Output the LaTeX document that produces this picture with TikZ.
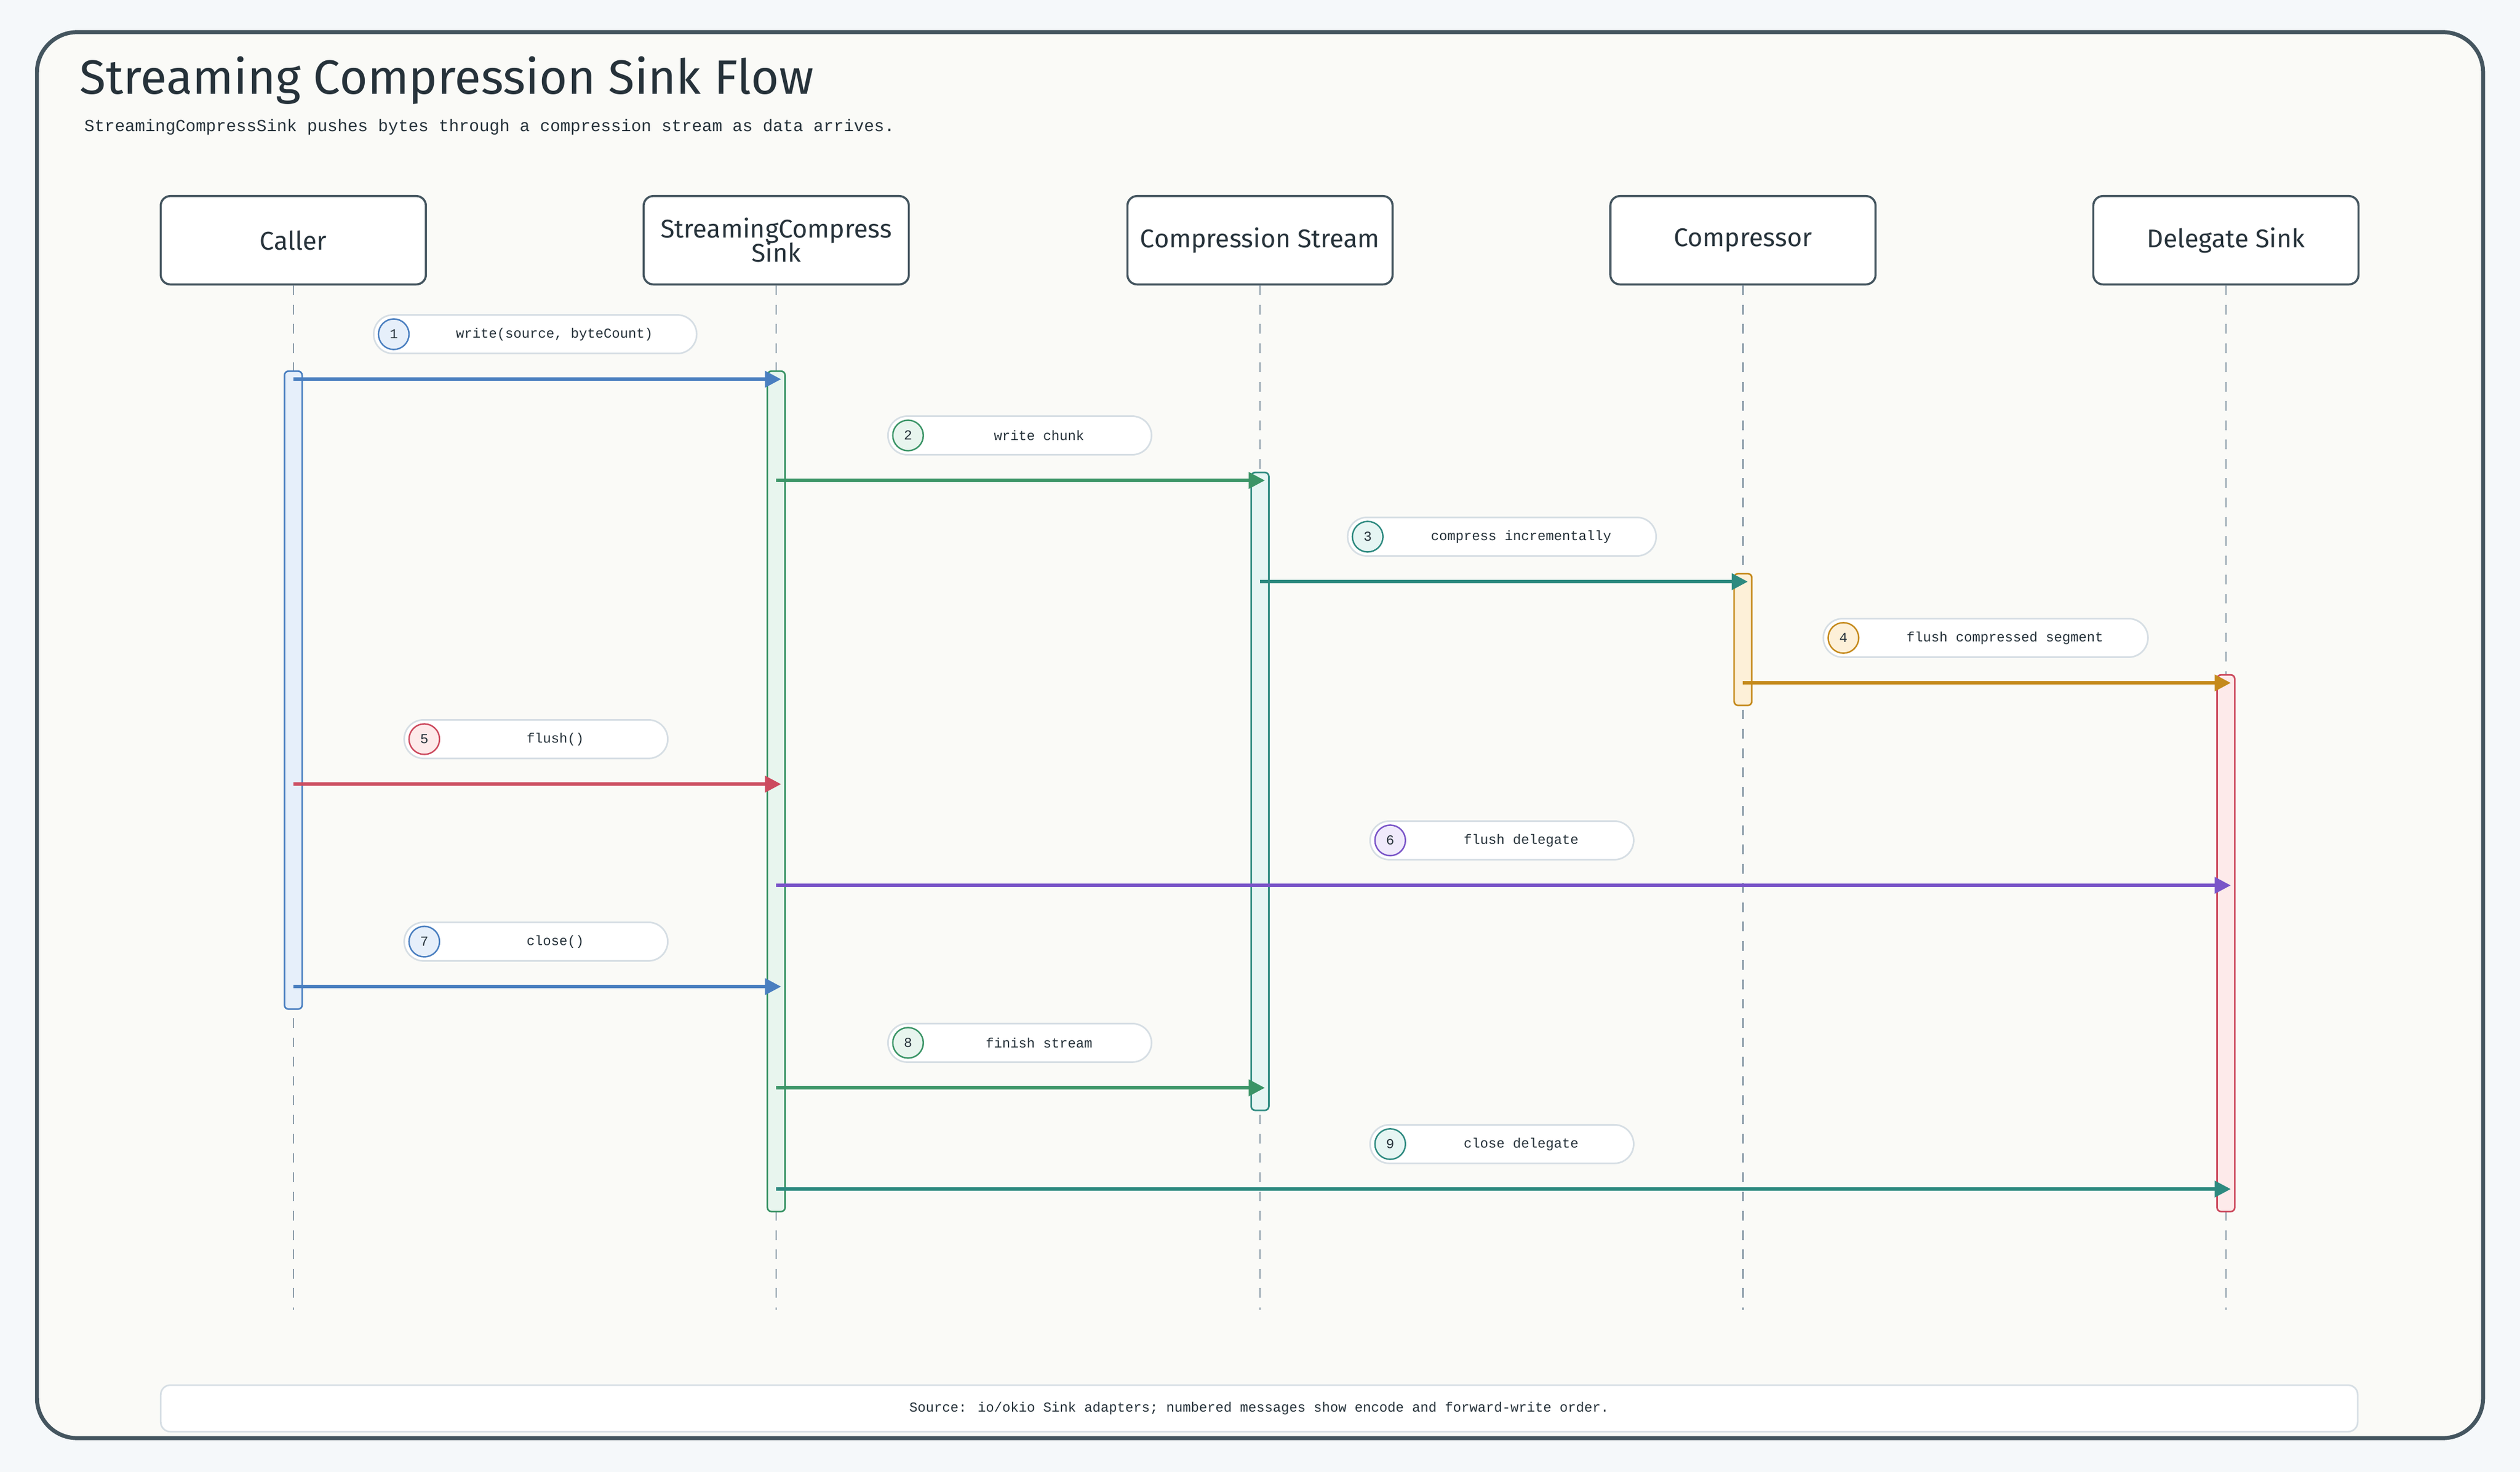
\documentclass[tikz,border=0pt]{standalone}
\usepackage{fontspec}
\setmainfont{Fira Sans}
\newfontfamily\monof{Liberation Mono}
\usetikzlibrary{arrows.meta}
\definecolor{bgout}{HTML}{F5F8FA}
\definecolor{bgin}{HTML}{FAFAF7}
\definecolor{frame}{HTML}{44555F}
\definecolor{ink}{HTML}{26323A}
\definecolor{cblue}{HTML}{4A7FC0}\definecolor{fblue}{HTML}{E6EFFA}
\definecolor{cgreen}{HTML}{3A9466}\definecolor{fgreen}{HTML}{E8F5EE}
\definecolor{cteal}{HTML}{2E8A80}\definecolor{fteal}{HTML}{E6F5F3}
\definecolor{corange}{HTML}{C58A1C}\definecolor{forange}{HTML}{FDF0D8}
\definecolor{cred}{HTML}{CC4A5E}\definecolor{fred}{HTML}{FDEAEA}
\definecolor{cpurple}{HTML}{7A55C8}\definecolor{fpurple}{HTML}{F0EAFB}
\definecolor{pill}{HTML}{D6DEE4}
\definecolor{life}{HTML}{8A9BA8}
\tikzset{x=1pt,y=-1pt,
 hdr/.style={draw=frame,line width=1.3pt,fill=white,rounded corners=6pt,minimum width=165pt,minimum height=55pt,align=center,font=\fontsize{16}{15}\selectfont,text=ink,inner sep=1pt},
 lifeline/.style={life,line width=0.9pt,dash pattern=on 6pt off 6pt},
 act/.style={rounded corners=2.5pt,line width=1pt},
 msg/.style={line width=2pt,-{Triangle[length=10pt,width=10pt]}},
 pillbox/.style={draw=pill,line width=1pt,fill=white,rounded corners=12pt,minimum height=24pt,inner sep=0pt},
 numc/.style={circle,line width=0.9pt,minimum size=19pt,inner sep=0pt,font=\monof\fontsize{8.5}{9}\selectfont,text=ink},
 lbl/.style={font=\monof\fontsize{8.5}{9}\selectfont,text=ink}
}
\begin{document}
\begin{tikzpicture}
\fill[bgout] (0,0) rectangle (1568,916);
\useasboundingbox (0,0) rectangle (1568,916);
\draw[frame,fill=bgin,line width=2.5pt,rounded corners=25pt] (23,20) rectangle (1545,895);
\node[anchor=west,font=\fontsize{30}{32}\selectfont,text=ink] (title) at (46,50) {Streaming Compression Sink Flow};
\node[anchor=west,font=\monof\fontsize{10.5}{12}\selectfont,text=ink] (sub) at (49,79) {StreamingCompressSink pushes bytes through a compression stream as data arrives.};
% headers
\foreach \n/\x/\t in {A/182.5/Caller,B/483/{StreamingCompress\\[-2pt]Sink},C/784/Compression Stream,D/1084.5/Compressor,E/1385/Delegate Sink}{
 \node[hdr] (h\n) at (\x,149.5) {\t};
 \coordinate (e\n) at (\x,815);
 \draw[lifeline] (h\n.south) -- (e\n);
}
% activations
\draw[act,draw=cblue,fill=fblue] (177,231) rectangle (188,628);
\draw[act,draw=cgreen,fill=fgreen] (477.5,231) rectangle (488.5,754);
\draw[act,draw=cteal,fill=fteal] (778.5,294) rectangle (789.5,691);
\draw[act,draw=corange,fill=forange] (1079,357) rectangle (1090,439);
\draw[act,draw=cred,fill=fred] (1379.5,420) rectangle (1390.5,754);
% messages
\foreach \i/\fx/\tx/\y/\px/\pw/\c/\f/\t in {
1/182.5/486/236/232/201/cblue/fblue/{write(source, byteCount)},
2/483/787/299/552/164/cgreen/fgreen/{write chunk},
3/784/1087.5/362/838/192/cteal/fteal/{compress incrementally},
4/1084.5/1388/425/1134/202/corange/forange/{flush compressed segment},
5/182.5/486/488/251/164/cred/fred/{flush()},
6/483/1388/551/852/164/cpurple/fpurple/{flush delegate},
7/182.5/486/614/251/164/cblue/fblue/{close()},
8/483/787/677/552/164/cgreen/fgreen/{finish stream},
9/483/1388/740/852/164/cteal/fteal/{close delegate}}{
 \coordinate (s\i) at (\fx,\y);
 \coordinate (t\i) at (\tx,\y);
 \draw[msg,\c] (s\i) -- (t\i);
 \node[pillbox,minimum width=\pw pt,anchor=west] (p\i) at (\px,\y-28) {};
 \node[numc,draw=\c,fill=\f] (n\i) at (\px+13,\y-28) {\i};
 \node[lbl] (l\i) at ([xshift=12pt]p\i.center) {\t};
}
\node[draw=pill,line width=1pt,fill=white,rounded corners=6pt,minimum width=1367pt,minimum height=29pt,font=\monof\fontsize{8.5}{9}\selectfont,text=ink] (foot) at (783.5,876.5) {Source: io/okio Sink adapters; numbered messages show encode and forward-write order.};
\end{tikzpicture}
\end{document}
